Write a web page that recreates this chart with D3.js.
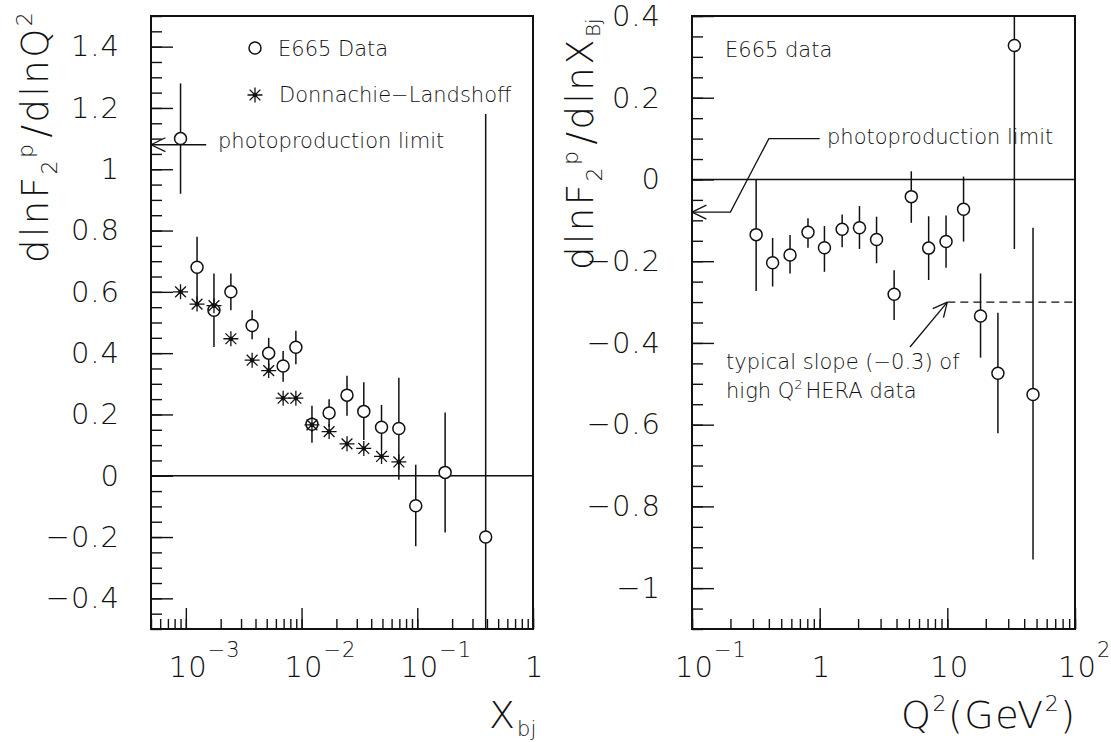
<!DOCTYPE html>
<html>
<head>
<meta charset="utf-8">
<script src="https://cdn.jsdelivr.net/npm/d3@7"></script>
<style>
  html, body { margin: 0; padding: 0; background: #fff; }
  svg text { font-family: "DejaVu Sans", sans-serif; font-weight: 200; fill: #111; }
</style>
</head>
<body>
<svg id="chart" width="1111" height="742"></svg>
<script>
// ---- left panel: dlnF2/dlnQ2 vs x_bj ----
let e665X   = [9.0e-4, 1.25e-3, 1.75e-3, 2.45e-3, 3.74e-3, 5.2e-3, 6.93e-3, 8.93e-3, 1.23e-2, 1.73e-2, 2.47e-2, 3.45e-2, 4.91e-2, 6.93e-2, 9.7e-2, 0.174, 0.39];
let e665Y   = [1.10, 0.68, 0.54, 0.60, 0.49, 0.40, 0.358, 0.419, 0.168, 0.205, 0.263, 0.21, 0.158, 0.154, -0.098, 0.011, -0.20];
let e665Hi  = [1.28, 0.78, 0.66, 0.66, 0.54, 0.45, 0.407, 0.473, 0.228, 0.25, 0.326, 0.305, 0.231, 0.32, 0.036, 0.206, 1.18];
let e665Lo  = [0.92, 0.56, 0.42, 0.54, 0.445, 0.35, 0.307, 0.364, 0.108, 0.16, 0.196, 0.117, 0.085, -0.013, -0.23, -0.185, -0.6];
let dlX     = [9.0e-4, 1.25e-3, 1.75e-3, 2.45e-3, 3.74e-3, 5.2e-3, 6.93e-3, 8.93e-3, 1.23e-2, 1.73e-2, 2.47e-2, 3.45e-2, 4.91e-2, 6.93e-2];
let dlY     = [0.60, 0.56, 0.555, 0.447, 0.377, 0.343, 0.253, 0.253, 0.166, 0.144, 0.104, 0.089, 0.063, 0.045];
let leftYMajor = [-0.4, -0.2, 0, 0.2, 0.4, 0.6, 0.8, 1, 1.2, 1.4];
let leftXLabels = [[1e-3, "10", "−3"], [1e-2, "10", "−2"], [1e-1, "10", "−1"], [1, "1", ""]];

// ---- right panel: dlnF2/dlnx vs Q2 ----
let q2      = [0.318, 0.428, 0.586, 0.81, 1.09, 1.50, 2.05, 2.79, 3.83, 5.22, 7.14, 9.77, 13.4, 18.2, 24.9, 33.5, 46.9];
let slope   = [-0.135, -0.204, -0.185, -0.129, -0.167, -0.122, -0.118, -0.147, -0.281, -0.042, -0.168, -0.152, -0.073, -0.334, -0.474, 0.328, -0.526];
let slopeHi = [0.0, -0.143, -0.136, -0.095, -0.114, -0.086, -0.065, -0.091, -0.222, 0.02, -0.09, -0.088, 0.007, -0.23, -0.326, 0.9, -0.118];
let slopeLo = [-0.273, -0.262, -0.23, -0.167, -0.226, -0.166, -0.17, -0.205, -0.344, -0.106, -0.246, -0.216, -0.152, -0.436, -0.621, -0.17, -0.93];
let rightYMajor = [-1, -0.8, -0.6, -0.4, -0.2, 0, 0.2, 0.4];
let rightXLabels = [[0.1, "10", "−1"], [1, "1", ""], [10, "10", ""], [100, "10", "2"]];
let heraSlope = -0.3;

let svg = d3.select("#chart");
let INK = "#111";

let xL = d3.scaleLog().domain([5e-4, 1]).range([151, 533]);
let yL = d3.scaleLinear().domain([-0.5, 1.5]).range([629, 16]);
let xR = d3.scaleLog().domain([0.1, 100]).range([692, 1075]);
let yR = d3.scaleLinear().domain([-1.1, 0.4]).range([629, 16]);

let minors = (lo, hi) => d3.range(Math.round(lo * 20), Math.round(hi * 20) + 1).map(v => v / 20);

let drawFrame = function (x, y, yMajor, xLabels, clipId) {
  let [x0, x1] = x.range(), [y1, y0] = y.range();

  svg.append("defs").append("clipPath").attr("id", clipId)
    .append("rect").attr("x", x0).attr("y", y0).attr("width", x1 - x0).attr("height", y1 - y0);

  // y ticks (inside)
  let ym = svg.append("g").attr("transform", "translate(" + x0 + ",0)")
    .call(d3.axisLeft(y).tickValues(minors(y.domain()[0], y.domain()[1])).tickSize(-11).tickFormat(""));
  let yM = svg.append("g").attr("transform", "translate(" + x0 + ",0)")
    .call(d3.axisLeft(y).tickValues(yMajor).tickSize(-22).tickPadding(31).tickFormat(d3.format("~g")));
  yM.attr("font-size", 29).attr("font-family", null);
  yM.selectAll("text").attr("letter-spacing", 1);

  // x ticks (inside)
  let xm = svg.append("g").attr("transform", "translate(0," + y1 + ")")
    .call(d3.axisBottom(x).tickValues(x.ticks()).tickSize(-10).tickFormat(""));
  let xM = svg.append("g").attr("transform", "translate(0," + y1 + ")")
    .call(d3.axisBottom(x).tickValues(xLabels.map(d => d[0])).tickSize(-21).tickFormat(""));

  [ym, yM, xm, xM].forEach(g => {
    g.select(".domain").remove();
    g.selectAll("line").attr("stroke", INK).attr("stroke-width", 1.4);
  });

  // decade labels: "10" centred on the tick, exponent as a raised tspan
  xLabels.forEach(d => {
    let px = x(d[0]);
    let t = svg.append("text").attr("x", px - (d[1] == "10" ? 17 : 8)).attr("y", 677)
      .attr("font-size", 29).attr("letter-spacing", 1);
    t.append("tspan").text(d[1]);
    if (d[2]) {
      t.append("tspan").attr("font-size", 21).attr("dy", -20).attr("dx", 0).text(d[2]);
    }
  });

  // zero line
  svg.append("line").attr("x1", x0).attr("x2", x1).attr("y1", y(0)).attr("y2", y(0))
    .attr("stroke", INK).attr("stroke-width", 1.4);

  // frame
  svg.append("rect").attr("x", x0).attr("y", y0).attr("width", x1 - x0).attr("height", y1 - y0)
    .attr("fill", "none").attr("stroke", INK).attr("stroke-width", 2);
};

let drawPoints = function (x, y, xs, ys, lo, hi, clipId) {
  let g = svg.append("g").attr("clip-path", "url(#" + clipId + ")");
  g.selectAll(".err").data(xs).enter().append("line")
    .attr("x1", d => x(d)).attr("x2", d => x(d))
    .attr("y1", (d, i) => y(lo[i])).attr("y2", (d, i) => y(hi[i]))
    .attr("stroke", INK).attr("stroke-width", 1.5);
  g.selectAll(".pt").data(xs).enter().append("circle")
    .attr("cx", d => x(d)).attr("cy", (d, i) => y(ys[i])).attr("r", 6)
    .attr("fill", "#fff").attr("stroke", INK).attr("stroke-width", 1.5);
};

let star = function (g, cx, cy) {
  let s = 7.5, c = s * 0.72;
  g.append("path")
    .attr("d", "M" + (cx - s) + "," + cy + "h" + 2 * s + "M" + cx + "," + (cy - s) + "v" + 2 * s +
      "M" + (cx - c) + "," + (cy - c) + "l" + 2 * c + "," + 2 * c + "M" + (cx - c) + "," + (cy + c) + "l" + 2 * c + "," + -2 * c)
    .attr("stroke", INK).attr("stroke-width", 1.3).attr("fill", "none");
  g.append("circle").attr("cx", cx).attr("cy", cy).attr("r", 2.3).attr("fill", INK);
};

let arrowHead = function (tx, ty, fx, fy, len) {
  let a = Math.atan2(fy - ty, fx - tx), w = 0.45;
  [a - w, a + w].forEach(b => {
    svg.append("line").attr("x1", tx).attr("y1", ty)
      .attr("x2", tx + len * Math.cos(b)).attr("y2", ty + len * Math.sin(b))
      .attr("stroke", INK).attr("stroke-width", 1.3);
  });
};

// ---------- left panel ----------
drawFrame(xL, yL, leftYMajor, leftXLabels, "clipL");
drawPoints(xL, yL, e665X, e665Y, e665Lo, e665Hi, "clipL");
let dlG = svg.append("g");
dlX.forEach((d, i) => star(dlG, xL(d), yL(dlY[i])));

// legend
svg.append("circle").attr("cx", 255).attr("cy", 48).attr("r", 6)
  .attr("fill", "#fff").attr("stroke", INK).attr("stroke-width", 1.5);
svg.append("text").attr("x", 278).attr("y", 56).attr("font-size", 21).text("E665 Data");
star(svg, 255, 95);
svg.append("text").attr("x", 279).attr("y", 102).attr("font-size", 21).text("Donnachie−Landshoff");

// photoproduction limit arrow
svg.append("line").attr("x1", xL(5e-4)).attr("x2", xL(1.5e-3)).attr("y1", yL(1.08)).attr("y2", yL(1.08))
  .attr("stroke", INK).attr("stroke-width", 1.3);
arrowHead(xL(5e-4), yL(1.08), xL(1.5e-3), yL(1.08), 16);
svg.append("text").attr("x", 218).attr("y", 148).attr("font-size", 21).text("photoproduction limit");

// axis titles
let tl = svg.append("text").attr("transform", "translate(48,263) rotate(-90)").attr("font-size", 37)
  .attr("letter-spacing", 2.5);
tl.append("tspan").text("dlnF");
tl.append("tspan").attr("font-size", 22).attr("dy", 9).text("2");
tl.append("tspan").attr("font-size", 22).attr("dy", -24).attr("dx", 0).text("p");
tl.append("tspan").attr("dy", 15).attr("dx", 4).text("/dlnQ");
tl.append("tspan").attr("font-size", 22).attr("dy", -16).text("2");

let xt = svg.append("text").attr("x", 489).attr("y", 728).attr("font-size", 38);
xt.append("tspan").text("X");
xt.append("tspan").attr("font-size", 21).attr("dy", 8).attr("dx", 2).text("bj");

// ---------- right panel ----------
drawFrame(xR, yR, rightYMajor, rightXLabels, "clipR");

// HERA slope dashed line
svg.append("line").attr("x1", xR(10)).attr("x2", xR(100)).attr("y1", yR(heraSlope)).attr("y2", yR(heraSlope))
  .attr("stroke", INK).attr("stroke-width", 1.3).attr("stroke-dasharray", "8,5");

drawPoints(xR, yR, q2, slope, slopeLo, slopeHi, "clipR");

svg.append("text").attr("x", 725).attr("y", 57).attr("font-size", 21).text("E665 data");

// photoproduction limit (bent arrow)
let bend = [[0.1, -0.08], [0.2, -0.08], [0.4, 0.1], [1, 0.1]];
svg.append("path")
  .attr("d", d3.line().x(d => xR(d[0])).y(d => yR(d[1]))(bend))
  .attr("fill", "none").attr("stroke", INK).attr("stroke-width", 1.3);
arrowHead(xR(0.1), yR(-0.08), xR(0.2), yR(-0.08), 16);
svg.append("text").attr("x", 827).attr("y", 144).attr("font-size", 21).text("photoproduction limit");

// HERA slope arrow
svg.append("line").attr("x1", xR(5.1)).attr("y1", yR(-0.41)).attr("x2", xR(10)).attr("y2", yR(heraSlope))
  .attr("stroke", INK).attr("stroke-width", 1.3);
arrowHead(xR(10), yR(heraSlope), xR(5.1), yR(-0.41), 16);
svg.append("text").attr("x", 726).attr("y", 369).attr("font-size", 21).text("typical slope (−0.3) of");
let ht = svg.append("text").attr("x", 726).attr("y", 398).attr("font-size", 21);
ht.append("tspan").text("high Q");
ht.append("tspan").attr("font-size", 13).attr("dy", -9).text("2");
ht.append("tspan").attr("dy", 9).attr("dx", 3).text("HERA data");

// axis titles
let tr = svg.append("text").attr("transform", "translate(593,270) rotate(-90)").attr("font-size", 37)
  .attr("letter-spacing", 2.5);
tr.append("tspan").text("dlnF");
tr.append("tspan").attr("font-size", 22).attr("dy", 9).text("2");
tr.append("tspan").attr("font-size", 22).attr("dy", -24).attr("dx", 0).text("p");
tr.append("tspan").attr("dy", 15).attr("dx", 4).text("/dlnX");
tr.append("tspan").attr("font-size", 20).attr("dy", 7).attr("dx", 0).attr("letter-spacing", 0).text("Bj");

let qt = svg.append("text").attr("x", 901).attr("y", 728).attr("font-size", 38).attr("letter-spacing", 1.5);
qt.append("tspan").text("Q");
qt.append("tspan").attr("font-size", 22).attr("dy", -17).text("2");
qt.append("tspan").attr("dy", 17).text("(GeV");
qt.append("tspan").attr("font-size", 22).attr("dy", -17).text("2");
qt.append("tspan").attr("dy", 17).text(")");
</script>
</body>
</html>
